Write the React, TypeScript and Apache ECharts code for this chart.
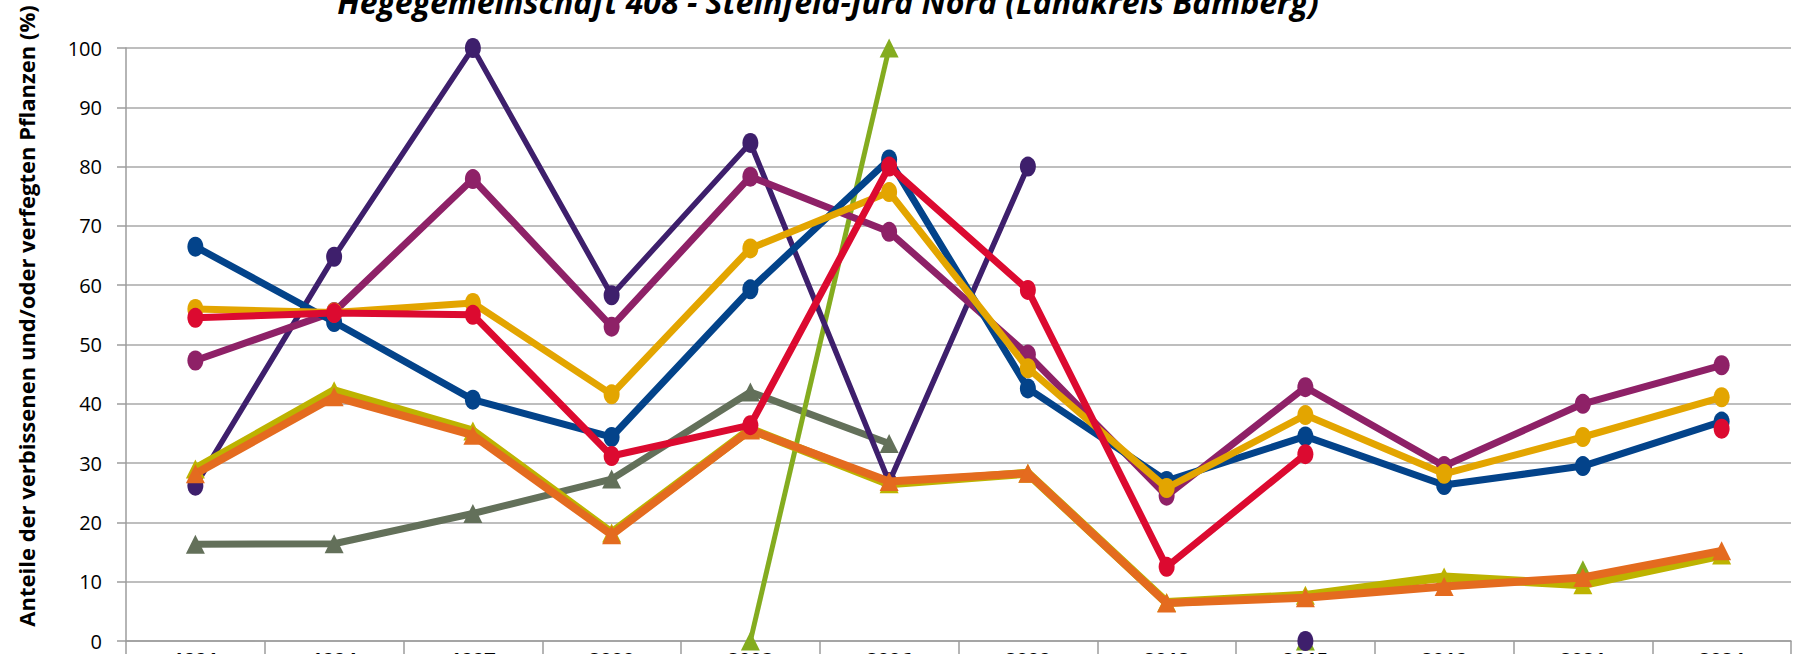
import React, { useEffect, useRef } from "react";
import * as echarts from "echarts";

const years = ["1991", "1994", "1997", "2000", "2003", "2006", "2009", "2012", "2015", "2018", "2021", "2024"];
const yTicks = [0, 10, 20, 30, 40, 50, 60, 70, 80, 90, 100];

const blueVals = [66.5, 53.8, 40.7, 34.4, 59.3, 81.2, 42.6, 27.0, 34.5, 26.3, 29.5, 37.0];
const purpleVals = [26.2, 64.8, 100, 58.3, 84.0, 26.8, 80.0, null, 0, null, null, null];
const plumVals = [47.3, 55.5, 77.9, 53.0, 78.3, 69.0, 48.3, 24.5, 42.8, 29.5, 40.0, 46.5];
const redVals = [54.5, 55.3, 55.0, 31.2, 36.4, 80.0, 59.2, 12.5, 31.5, null, null, 35.8];
const goldVals = [56.0, 55.4, 57.0, 41.6, 66.2, 75.7, 46.0, 25.8, 38.1, 28.2, 34.4, 41.1];
const greyVals = [16.3, 16.4, 21.5, 27.3, 42.0, 33.3, null, null, null, null, null, null];
const oliveVals = [29.0, 42.2, 35.4, 18.2, 35.7, 26.5, 28.3, 6.5, 7.7, 10.8, 9.5, 14.5];
const orangeVals = [28.2, 41.2, 34.7, 17.9, 35.6, 26.9, 28.3, 6.4, 7.3, 9.2, 10.7, 15.2];
const limeVals = [null, null, null, null, 0, 100, null, null, 0, null, 12, null];

const titleText = "Hegegemeinschaft 408 - Steinfeld-Jura Nord (Landkreis Bamberg)";
const yAxisTitle = "Anteile der verbissenen und/oder verfegten Pflanzen (%)";

function mk(name: string, data: (number | null)[], color: string, width: number, symbol: string, size: number | number[], z: number) {
  return {
    name,
    type: "line",
    data,
    z,
    symbol,
    symbolSize: size,
    showSymbol: true,
    connectNulls: false,
    lineStyle: { color, width, join: "round" },
    itemStyle: { color, borderWidth: 0 },
  };
}

export default function App() {
  const ref = useRef<HTMLDivElement>(null);
  useEffect(() => {
    if (!ref.current) return;
    const chart = echarts.init(ref.current, null, { renderer: "svg" });
    const circ: number[] = [16, 20];
    chart.setOption({
      animation: false,
      backgroundColor: "#ffffff",
      grid: { left: 126, right: 7, top: 48, bottom: 13, containLabel: false, outerBoundsMode: "none" },
      xAxis: {
        type: "category",
        data: years,
        boundaryGap: true,
        axisLine: { show: true, lineStyle: { color: "#9c9c9c", width: 1.5 } },
        axisTick: { show: true, length: 16, lineStyle: { color: "#9c9c9c", width: 1.5 } },
        axisLabel: { margin: 8, fontSize: 20, fontWeight: "bold", color: "#000", fontFamily: "Open Sans" },
        splitLine: { show: false },
      },
      yAxis: {
        type: "value",
        min: 0,
        max: 100,
        interval: 10,
        axisLine: { show: true, lineStyle: { color: "#9c9c9c", width: 1.5 } },
        axisTick: { show: true, length: 9, lineStyle: { color: "#9c9c9c", width: 1.5 } },
        axisLabel: {
          margin: 24,
          fontSize: 20,
          color: "#000",
          fontFamily: "Open Sans",
          formatter: (v: number) => (yTicks.includes(v) ? String(v) : ""),
        },
        splitLine: { show: true, lineStyle: { color: "#a8a8a8", width: 1.5 } },
      },
      graphic: [
        {
          type: "text",
          x: 828,
          y: 17,
          style: {
            text: titleText,
            fontSize: 32,
            fontWeight: "bold",
            fontStyle: "italic",
            fontFamily: "Open Sans",
            fill: "#000",
            align: "center",
            verticalAlign: "bottom",
          },
        },
        {
          type: "text",
          x: 26,
          y: 316,
          rotation: Math.PI / 2,
          style: {
            text: yAxisTitle,
            fontSize: 22,
            fontWeight: "bold",
            fontFamily: "Open Sans",
            fill: "#000",
            align: "center",
            verticalAlign: "middle",
          },
        },
      ],
      series: [
        mk("grey", greyVals, "#63705a", 7, "triangle", 19, 1),
        mk("lime", limeVals, "#84ac1f", 5, "triangle", 19, 2),
        mk("purple", purpleVals, "#3e1f6c", 5.5, "circle", circ, 3),
        mk("olive", oliveVals, "#bdb300", 9, "triangle", 19, 4),
        mk("orange", orangeVals, "#e46b1f", 8, "triangle", 19, 5),
        mk("plum", plumVals, "#8e2167", 7, "circle", circ, 6),
        mk("blue", blueVals, "#03438a", 7, "circle", circ, 7),
        mk("gold", goldVals, "#e3a500", 7, "circle", circ, 8),
        mk("red", redVals, "#dc0a30", 7, "circle", circ, 9),
      ],
    });
    return () => chart.dispose();
  }, []);
  return (
    <div
      ref={ref}
      style={{ position: "fixed", left: 0, top: 0, width: 1798, height: 654, background: "#fff" }}
    />
  );
}
